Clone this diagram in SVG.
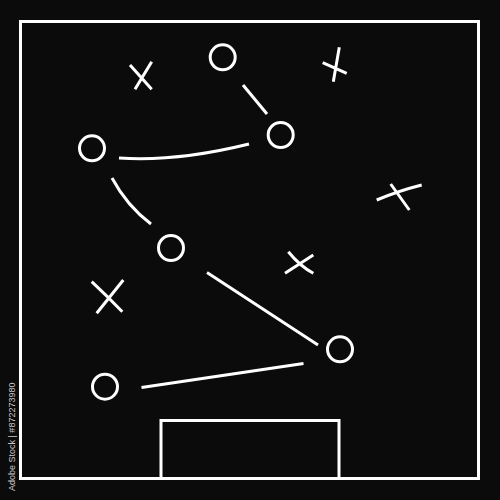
<svg xmlns="http://www.w3.org/2000/svg" width="500" height="500" viewBox="0 0 500 500">
  <style>
    .ln { fill: none; stroke: #ffffff; stroke-width: 3; stroke-linecap: butt; }
    .pl { fill: none; stroke: #ffffff; stroke-width: 3; }
    .mk { fill: none; stroke: #ffffff; stroke-width: 3; stroke-linecap: butt; }
    .wm { font-family: "Liberation Sans", Arial, sans-serif; font-size: 9px; fill: #c8c8c8; }
  </style>
  <rect x="0" y="0" width="500" height="500" fill="#0b0b0c"/>
  <g id="field">
    <rect x="20.5" y="21.5" width="458" height="457" fill="none" stroke="#ffffff" stroke-width="3"/>
    <path d="M161,478.5 V420.5 H339 V478.5" fill="none" stroke="#ffffff" stroke-width="3"/>
  </g>
  <g id="connectors">
    <path class="ln" d="M243,85 L267,114"/>
    <path class="ln" d="M119,158 Q176,162 249,144"/>
    <path class="ln" d="M112,178 Q127,206 151,224"/>
    <path class="ln" d="M207,272.5 L318,345"/>
    <path class="ln" d="M141.5,387.5 L303.5,363.5"/>
  </g>
  <g id="player-top"><circle class="pl" cx="222.7" cy="57.3" r="12.5"/></g>
  <g id="player-right-top"><circle class="pl" cx="280.7" cy="135" r="12.5"/></g>
  <g id="player-left"><circle class="pl" cx="92" cy="148.3" r="12.5"/></g>
  <g id="player-mid"><circle class="pl" cx="171" cy="248" r="12.5"/></g>
  <g id="player-right"><circle class="pl" cx="340" cy="349.3" r="12.5"/></g>
  <g id="player-bottom"><circle class="pl" cx="105" cy="386.7" r="12.5"/></g>
  <g id="opp-1"><path class="mk" d="M130,65 L151.7,89.3 M151.7,61.7 L135,89.3"/></g>
  <g id="opp-2"><path class="mk" d="M322.7,62.7 L346.7,73.3 M339.3,47.3 L333.3,81.7"/></g>
  <g id="opp-3"><path class="mk" d="M376.7,200 Q398,191 421.7,185 M390.7,184 L409.3,210"/></g>
  <g id="opp-4"><path class="mk" d="M288.3,251.7 Q300,266 313.3,273.3 M285,273.3 L313.3,255"/></g>
  <g id="opp-5"><path class="mk" d="M91.7,281.7 Q108,297 122.3,311.7 M96.7,313.3 L123.3,280"/></g>
  <text class="wm" transform="translate(15,491) rotate(-90)">Adobe Stock | #872273980</text>
</svg>
